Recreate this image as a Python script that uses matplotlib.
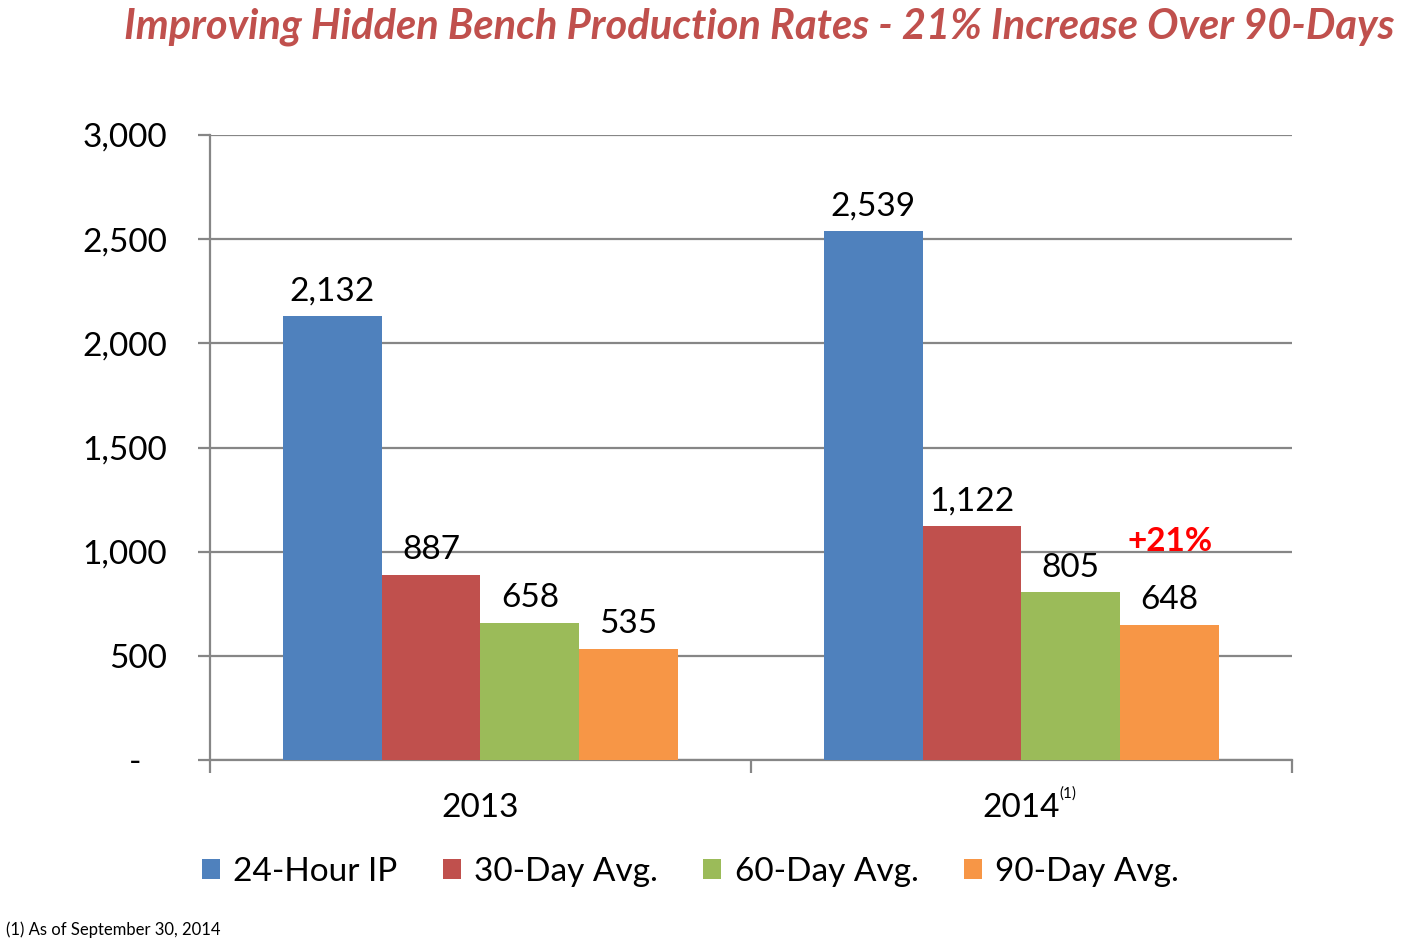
import matplotlib.pyplot as plt
import numpy as np

plt.rcParams['font.family'] = ['Lato', 'DejaVu Sans']

# Data
years = ['2013', '2014']
series = ['24-Hour IP', '30-Day Avg.', '60-Day Avg.', '90-Day Avg.']
values = [
    [2132, 2539],   # 24-Hour IP
    [887, 1122],    # 30-Day Avg.
    [658, 805],     # 60-Day Avg.
    [535, 648],     # 90-Day Avg.
]
colors = ['#4F81BD', '#C0504D', '#9BBB59', '#F79646']
yticks = [0, 500, 1000, 1500, 2000, 2500, 3000]
ytick_labels = ['-   ', '500', '1,000', '1,500', '2,000', '2,500', '3,000']

fig = plt.figure(figsize=(14.12, 9.46), dpi=100)
ax = fig.add_axes([0.1487, 0.1966, 0.7663, 0.6607])

x = np.arange(len(years))
w = 0.1825
grid_color = '#868686'
fs = 24

bars_by_series = []
for i, (name, vals, c) in enumerate(zip(series, values, colors)):
    b = ax.bar(x + (i - 1.5) * w, vals, w, color=c, label=name, zorder=3)
    bars_by_series.append(b)
    for rect, v in zip(b, vals):
        ax.annotate(f'{v:,}', (rect.get_x() + rect.get_width() / 2, v),
                    xytext=(0, 7), textcoords='offset points',
                    ha='center', va='bottom', fontsize=fs, color='black')

# +21% callout above the 2014 90-day bar
r = bars_by_series[3][1]
ax.annotate('+21%', (r.get_x() + r.get_width() / 2, values[3][1]),
            xytext=(0, 50), textcoords='offset points',
            ha='center', va='bottom', fontsize=fs, color='#FF0000',
            fontweight='bold')

ax.set_xlim(-0.5, 1.5)
ax.set_ylim(0, 3000)
ax.set_yticks(yticks)
ax.set_yticklabels(ytick_labels)
ax.yaxis.grid(True, color=grid_color, linewidth=1.6, zorder=0)
ax.set_axisbelow(True)

ax.set_xticks(x)
ax.set_xticklabels(years)
ax.set_xticks([-0.5, 0.5, 1.5], minor=True)
ax.tick_params(axis='x', which='major', length=0, pad=24, labelsize=fs)
ax.tick_params(axis='x', which='minor', length=9, width=1.6, color=grid_color,
               direction='out')
ax.tick_params(axis='y', length=9, width=1.6, color=grid_color, pad=22,
               labelsize=fs)

# footnote marker on 2014
ax.annotate('(1)', xy=(1, 0), xycoords=('data', 'axes fraction'),
            xytext=(27, -24), textcoords='offset points',
            ha='left', va='center', fontsize=11)

for s in ['top', 'right']:
    ax.spines[s].set_visible(False)
for s in ['left', 'bottom']:
    ax.spines[s].set_color(grid_color)
    ax.spines[s].set_linewidth(1.6)

fig.text(0.5375, 0.972, 'Improving Hidden Bench Production Rates - 21% Increase Over 90-Days',
         ha='center', va='center', fontsize=30, color='#C0504D',
         fontweight='bold', fontstyle='italic')

fig.legend(loc='center', bbox_to_anchor=(0.489, 0.078), ncol=4, frameon=False,
           fontsize=fs, handlelength=0.55, handleheight=0.55, handletextpad=0.4,
           columnspacing=1.35)

fig.text(0.004, 0.017, '(1) As of September 30, 2014', ha='left', va='center',
         fontsize=12, color='black')

fig.savefig('out.png', dpi=100)
